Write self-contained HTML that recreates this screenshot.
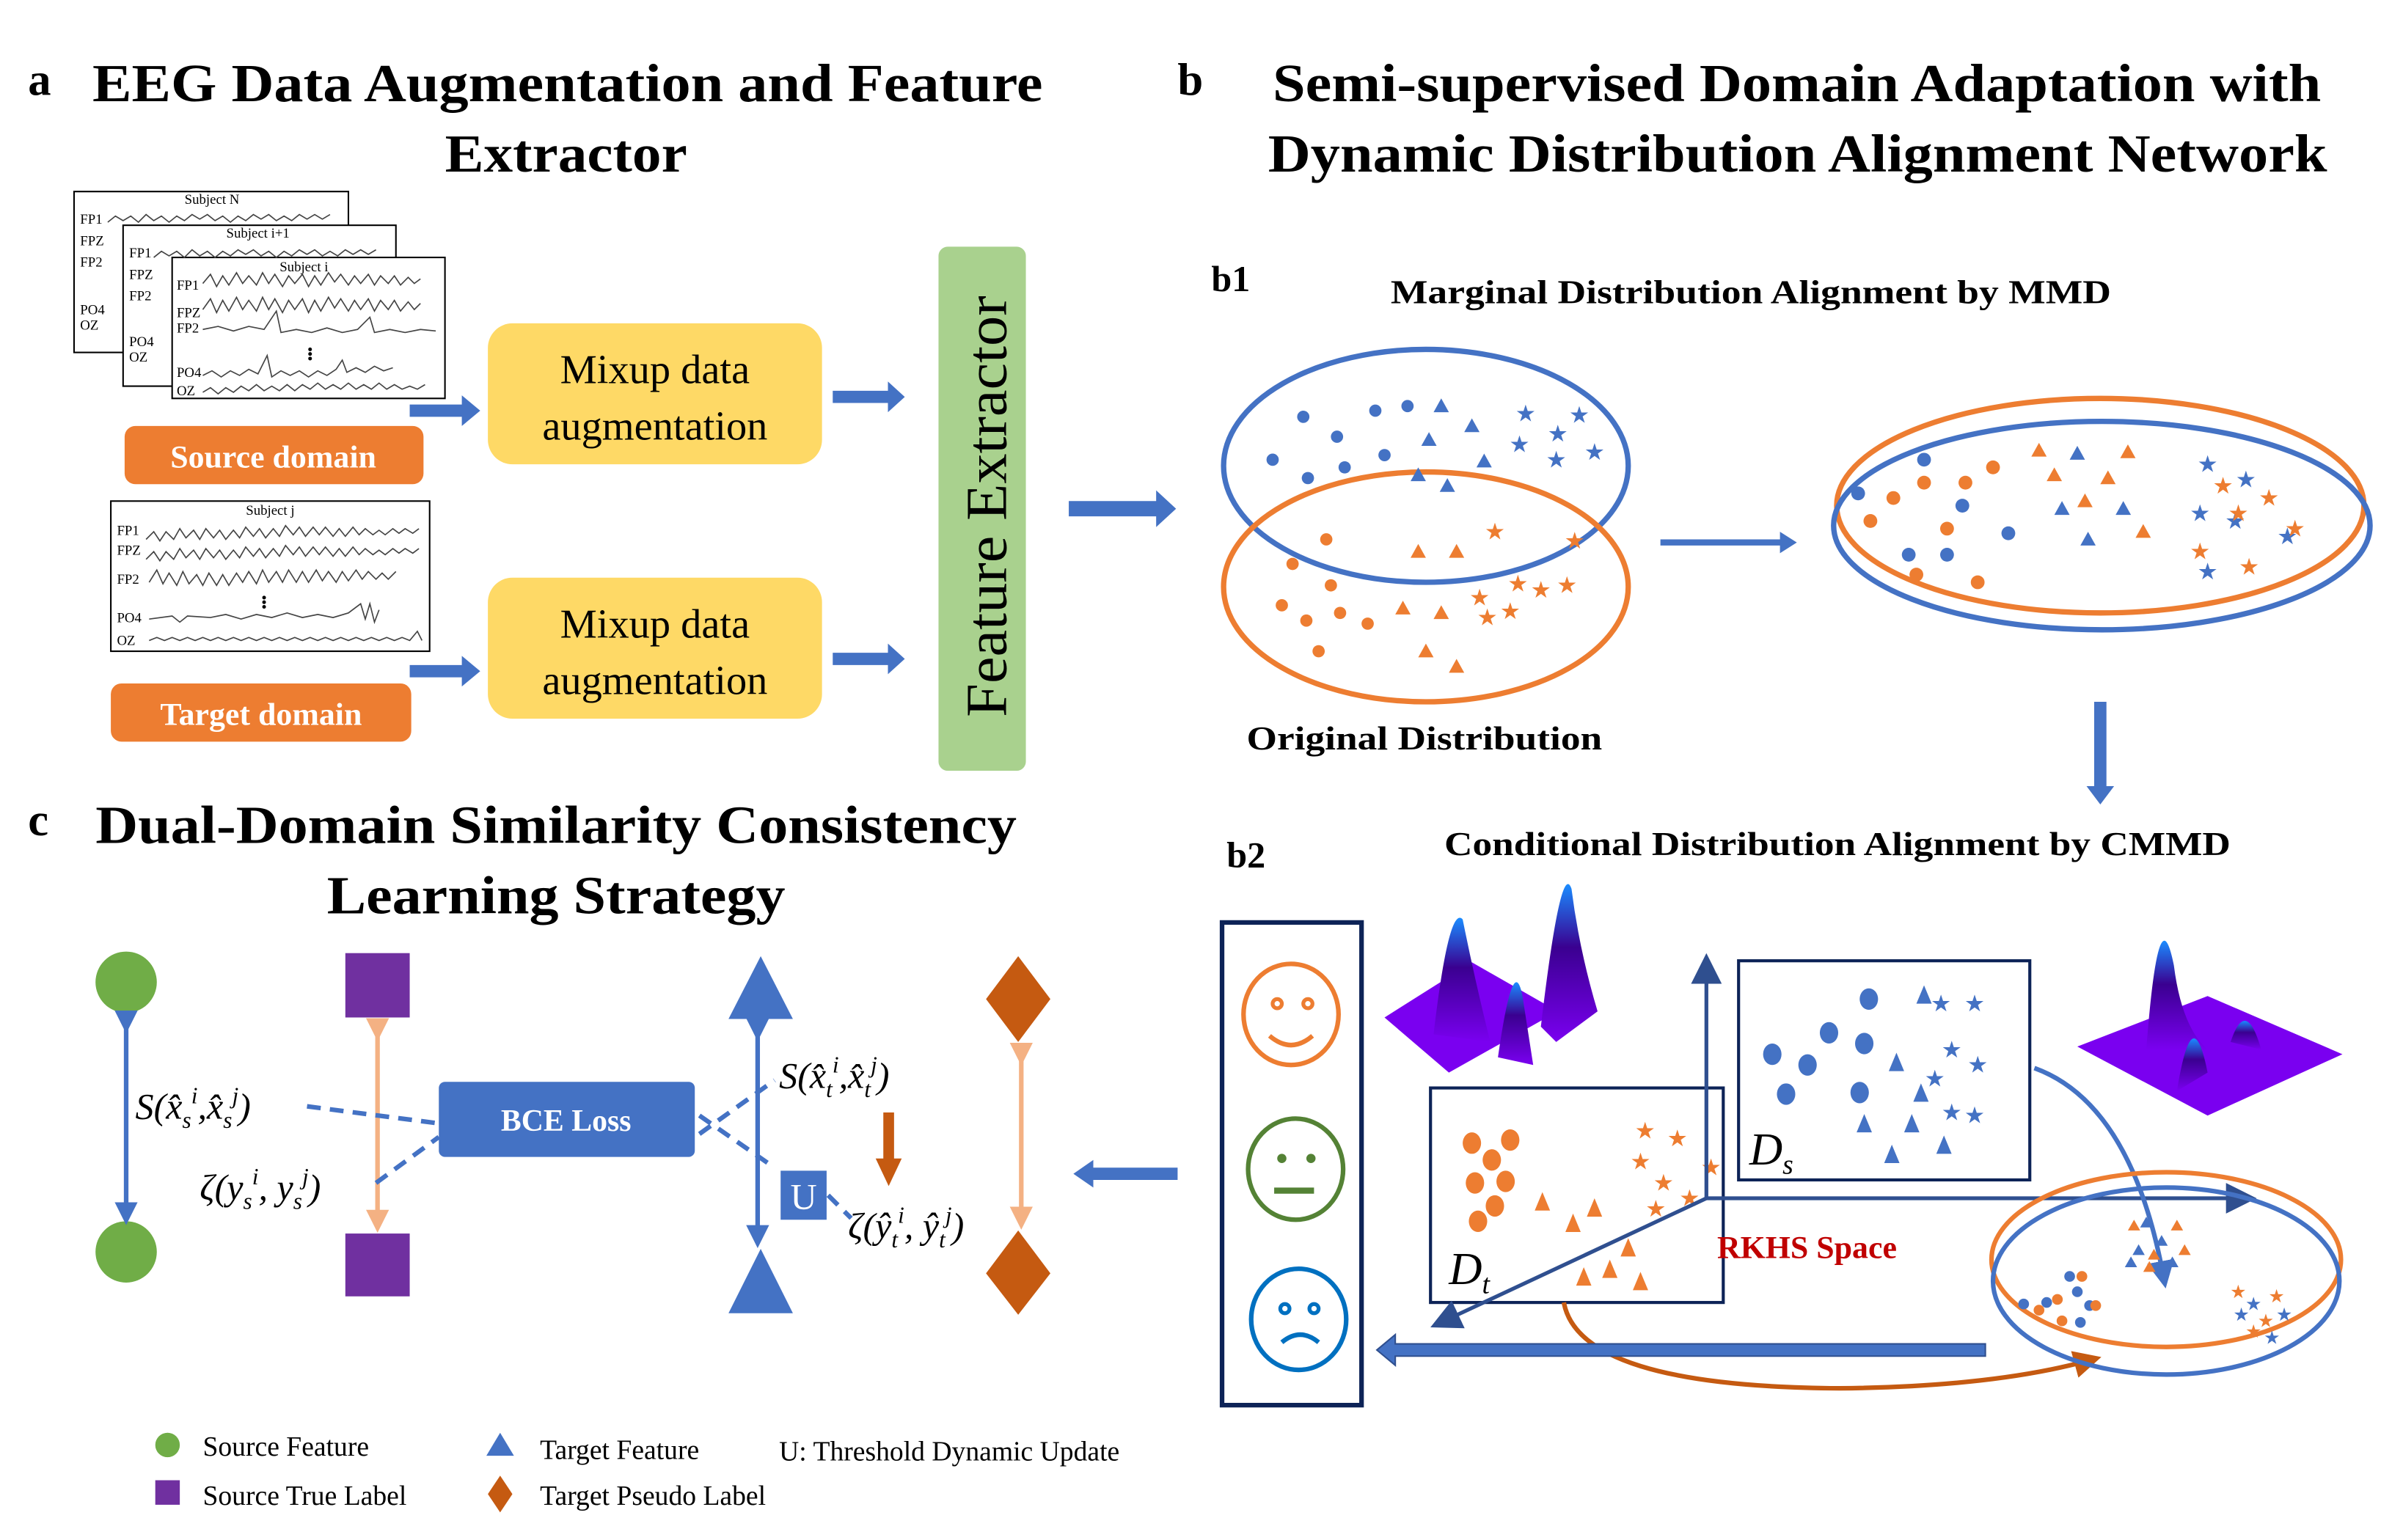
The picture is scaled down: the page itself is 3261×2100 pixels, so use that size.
<!DOCTYPE html>
<html><head><meta charset="utf-8"><style>html,body{margin:0;padding:0;background:#fff}svg{display:block}</style></head><body>
<svg width="3261" height="2100" viewBox="0 0 1560 1005" xmlns="http://www.w3.org/2000/svg" font-family="Liberation Serif, serif">
<defs>
<linearGradient id="pk" x1="0" y1="1" x2="0" y2="0"><stop offset="0" stop-color="#7a00f0"/><stop offset="0.6" stop-color="#3a0090"/><stop offset="1" stop-color="#1a8cff"/></linearGradient>
<marker id="ah" markerWidth="6" markerHeight="6" refX="3" refY="3" orient="auto"><path d="M0,0L6,3L0,6z" fill="#4472c4"/></marker>
<marker id="ahn" markerWidth="8" markerHeight="8" refX="4" refY="4" orient="auto"><path d="M0,0L8,4L0,8z" fill="#2f4f8f"/></marker>
<marker id="aho" markerWidth="6" markerHeight="6" refX="3" refY="3" orient="auto"><path d="M0,0L6,3L0,6z" fill="#c55a11"/></marker>
<marker id="ahp" markerWidth="5" markerHeight="5" refX="2.5" refY="2.5" orient="auto"><path d="M0,0L5,2.5L0,5z" fill="#f4b183"/></marker>
<marker id="ahb" markerWidth="5" markerHeight="5" refX="2.5" refY="2.5" orient="auto"><path d="M0,0L5,2.5L0,5z" fill="#4472c4"/></marker>
</defs>
<g font-weight="bold" fill="#000">
<text x="18" y="62" font-size="30">a</text>
<text x="60" y="66" font-size="35" textLength="620" lengthAdjust="spacingAndGlyphs">EEG Data Augmentation and Feature</text>
<text x="290" y="112" font-size="35" textLength="158" lengthAdjust="spacingAndGlyphs">Extractor</text>
<text x="768" y="62" font-size="30">b</text>
<text x="830" y="66" font-size="35" textLength="684" lengthAdjust="spacingAndGlyphs">Semi-supervised Domain Adaptation with</text>
<text x="827" y="112" font-size="35" textLength="691" lengthAdjust="spacingAndGlyphs">Dynamic Distribution Alignment Network</text>
<text x="790" y="190" font-size="24">b1</text>
<text x="907" y="198" font-size="22" textLength="470" lengthAdjust="spacingAndGlyphs">Marginal Distribution Alignment by MMD</text>
<text x="813" y="489" font-size="22" textLength="232" lengthAdjust="spacingAndGlyphs">Original Distribution</text>
<text x="800" y="566" font-size="24">b2</text>
<text x="942" y="558" font-size="22" textLength="513" lengthAdjust="spacingAndGlyphs">Conditional Distribution Alignment by CMMD</text>
<text x="18" y="545" font-size="30">c</text>
<text x="62" y="550" font-size="35" textLength="601" lengthAdjust="spacingAndGlyphs">Dual-Domain Similarity Consistency</text>
<text x="213" y="596" font-size="35" textLength="299" lengthAdjust="spacingAndGlyphs">Learning Strategy</text>
</g>
<!-- EEG panels -->
<g stroke="#000" stroke-width="1" fill="#fff">
<rect x="48" y="125" width="179" height="105"/>
<rect x="80" y="147" width="178" height="105"/>
<rect x="112" y="168" width="178" height="92"/>
<rect x="72" y="327" width="208" height="98"/>
</g>
<g font-size="9" fill="#000">
<text x="138" y="133" text-anchor="middle">Subject N</text><text x="52" y="146">FP1</text><text x="52" y="160">FPZ</text><text x="52" y="174">FP2</text><text x="52" y="205">PO4</text><text x="52" y="215">OZ</text>
<text x="168" y="155" text-anchor="middle">Subject i+1</text><text x="84" y="168">FP1</text><text x="84" y="182">FPZ</text><text x="84" y="196">FP2</text><text x="84" y="226">PO4</text><text x="84" y="236">OZ</text>
<text x="198" y="177" text-anchor="middle">Subject i</text><text x="115" y="189">FP1</text><text x="115" y="207">FPZ</text><text x="115" y="217">FP2</text><text x="115" y="246">PO4</text><text x="115" y="258">OZ</text>
<text x="176" y="336" text-anchor="middle">Subject j</text><text x="76" y="349">FP1</text><text x="76" y="362">FPZ</text><text x="76" y="381">FP2</text><text x="76" y="406">PO4</text><text x="76" y="421">OZ</text>
</g>
<g stroke="#444" stroke-width="0.8" fill="none">
<path d="M132,185 l5,-6 l4,8 l4,-7 l4,6 l5,-8 l4,7 l4,-5 l5,6 l4,-8 l4,7 l4,-6 l5,8 l4,-7 l4,5 l5,-6 l4,8 l4,-7 l4,6 l5,-8 l4,6 l4,-5 l5,7 l4,-6 l4,5 l5,-6 l4,7 l4,-6 l5,5 l4,-5 l4,6 l5,-5 l4,4 l4,-3"/>
<path d="M132,202 l5,-7 l4,9 l4,-8 l4,7 l5,-9 l4,8 l4,-6 l5,7 l4,-9 l4,8 l4,-7 l5,9 l4,-8 l4,6 l5,-7 l4,9 l4,-8 l4,7 l5,-9 l4,7 l4,-6 l5,8 l4,-7 l4,6 l5,-7 l4,8 l4,-7 l5,6 l4,-6 l4,7 l5,-6 l4,5 l4,-4"/>
<path d="M132,215 l10,-2 l10,3 l10,-3 l10,2 l8,-12 l3,14 l10,-2 l10,2 l10,-3 l10,3 l10,-2 l8,-8 l3,10 l10,-2 l10,2 l10,-2 l10,1"/>
<path d="M132,245 l6,-3 l6,4 l6,-4 l6,3 l6,-4 l6,3 l6,-12 l3,14 l6,-4 l6,3 l6,-3 l6,4 l6,-4 l6,3 l6,-4 l4,-6 l3,8 l6,-3 l6,3 l6,-4 l6,3 l6,-2"/>
<path d="M132,256 l5,-3 l5,4 l5,-4 l5,3 l5,-4 l5,3 l5,-4 l5,4 l5,-3 l5,3 l5,-4 l5,4 l5,-4 l5,3 l5,-4 l5,4 l5,-3 l5,3 l5,-4 l5,4 l5,-3 l5,3 l5,-4 l5,4 l5,-3 l5,3 l5,-2 l5,2 l5,-3"/>
<path d="M70,145 l5,-4 l5,3 l5,-3 l5,4 l5,-5 l5,4 l5,-3 l5,4 l5,-4 l5,3 l5,-4 l5,3 l5,-3 l5,4 l5,-3 l5,4 l5,-4 l5,3 l5,-4 l5,3 l5,-3 l5,4 l5,-3 l5,3 l5,-4 l5,3 l5,-3 l5,3 l5,-3"/>
<path d="M100,168 l5,-4 l5,3 l5,-3 l5,4 l5,-5 l5,4 l5,-3 l5,4 l5,-4 l5,3 l5,-4 l5,3 l5,-3 l5,4 l5,-3 l5,4 l5,-4 l5,3 l5,-4 l5,3 l5,-3 l5,4 l5,-3 l5,3 l5,-4 l5,3 l5,-3 l5,3 l5,-3"/>
<path d="M95,352 l5,-5 l4,6 l4,-6 l5,5 l4,-7 l4,6 l5,-5 l4,6 l4,-7 l5,6 l4,-5 l4,6 l5,-6 l4,5 l4,-7 l5,6 l4,-5 l4,6 l5,-6 l4,5 l4,-7 l5,6 l4,-5 l4,6 l5,-6 l4,5 l4,-5 l5,6 l4,-5 l4,5 l5,-6 l4,5 l4,-4 l5,4 l4,-3 l4,3 l5,-4 l4,3 l4,-3 l5,3 l4,-3"/>
<path d="M95,365 l5,-5 l4,6 l4,-6 l5,5 l4,-7 l4,6 l5,-5 l4,6 l4,-7 l5,6 l4,-5 l4,6 l5,-6 l4,5 l4,-7 l5,6 l4,-5 l4,6 l5,-6 l4,5 l4,-7 l5,6 l4,-5 l4,6 l5,-6 l4,5 l4,-5 l5,6 l4,-5 l4,5 l5,-6 l4,5 l4,-4 l5,4 l4,-3 l4,3 l5,-4 l4,3 l4,-3 l5,3 l4,-3"/>
<path d="M97,380 l5,-8 l4,9 l4,-7 l5,8 l4,-9 l4,8 l5,-6 l4,7 l4,-8 l5,8 l4,-7 l4,7 l5,-8 l4,6 l4,-7 l5,8 l4,-9 l4,8 l5,-7 l4,7 l4,-8 l5,8 l4,-7 l4,7 l5,-8 l4,7 l4,-6 l5,7 l4,-7 l4,6 l5,-7 l4,6 l4,-5 l5,5 l4,-4 l4,4 l5,-5"/>
<path d="M97,404 l15,-2 l5,4 l5,-4 l15,1 l10,-2 l10,3 l10,-3 l10,2 l10,-3 l10,3 l10,-2 l10,2 l10,-3 l8,-6 l3,10 l3,-10 l3,12 l3,-8"/>
<path d="M97,418 l5,-2 l5,2 l5,-2 l5,2 l5,-2 l5,2 l5,-2 l5,2 l5,-2 l5,2 l5,-2 l5,2 l5,-2 l5,2 l5,-2 l5,2 l5,-2 l5,2 l5,-2 l5,2 l5,-2 l5,2 l5,-2 l5,2 l5,-2 l5,2 l5,-2 l5,2 l5,-2 l5,2 l5,-2 l5,2 l5,-2 l5,2 l5,-6 l3,6"/>
</g>
<g fill="#000"><circle cx="202" cy="228" r="1.2"/><circle cx="202" cy="231" r="1.2"/><circle cx="202" cy="234" r="1.2"/><circle cx="172" cy="390" r="1.2"/><circle cx="172" cy="393" r="1.2"/><circle cx="172" cy="396" r="1.2"/></g>
<!-- blue block arrows -->
<g fill="#4472c4">
<path d="M267,264h34v-6l12,10l-12,10v-6h-34z"/>
<path d="M267,434h34v-6l12,10l-12,10v-6h-34z"/>
<path d="M543,255h36v-6l11,10l-11,10v-6h-36z"/>
<path d="M543,426h36v-6l11,10l-11,10v-6h-36z"/>
<path d="M697,327h57v-7l13,12l-13,12v-7h-57z"/>
<path d="M1083,352h78v-5l11,7l-11,7v-5h-78z"/>
<path d="M1366,458h8v55h5l-9,12l-9,-12h5z"/>
<path d="M768,762h-55v-5l-13,9l13,9v-5h55z"/>
</g>
<rect x="81" y="278" width="195" height="38" rx="7" fill="#ed7d31"/>
<rect x="72" y="446" width="196" height="38" rx="7" fill="#ed7d31"/>
<g font-size="21" font-weight="bold" fill="#fff" text-anchor="middle"><text x="178" y="305">Source domain</text><text x="170" y="473">Target domain</text></g>
<rect x="318" y="211" width="218" height="92" rx="16" fill="#fed966"/>
<rect x="318" y="377" width="218" height="92" rx="16" fill="#fed966"/>
<g font-size="27" text-anchor="middle" fill="#000"><text x="427" y="250">Mixup data</text><text x="427" y="287">augmentation</text><text x="427" y="416">Mixup data</text><text x="427" y="453">augmentation</text></g>
<rect x="612" y="161" width="57" height="342" rx="6" fill="#a9d18e"/>
<text transform="translate(656,468) rotate(-90)" font-size="38" fill="#000" textLength="275" lengthAdjust="spacingAndGlyphs">Feature   Extractor</text>
<!-- b1 -->
<ellipse cx="930" cy="304" rx="132" ry="76" fill="none" stroke="#4472c4" stroke-width="3.5"/>
<ellipse cx="930" cy="383" rx="132" ry="75" fill="none" stroke="#ed7d31" stroke-width="3.5"/>
<g fill="#4472c4">
<circle cx="850" cy="272" r="4"/><circle cx="872" cy="285" r="4"/><circle cx="897" cy="268" r="4"/><circle cx="830" cy="300" r="4"/><circle cx="853" cy="312" r="4"/><circle cx="877" cy="305" r="4"/><circle cx="903" cy="297" r="4"/><circle cx="918" cy="265" r="4"/>
<path d="M940,260l5,9h-10z M960,273l5,9h-10z M925,305l5,9h-10z M944,312l5,9h-10z M968,296l5,9h-10z M932,282l5,9h-10z"/>
</g>
<g fill="#4472c4" font-size="15" text-anchor="middle"><text x="995" y="275">★</text><text x="1030" y="276">★</text><text x="991" y="295">★</text><text x="1016" y="288">★</text><text x="1040" y="300">★</text><text x="1015" y="305">★</text></g>
<g fill="#ed7d31">
<circle cx="865" cy="352" r="4"/><circle cx="843" cy="368" r="4"/><circle cx="868" cy="382" r="4"/><circle cx="836" cy="395" r="4"/><circle cx="874" cy="400" r="4"/><circle cx="852" cy="405" r="4"/><circle cx="892" cy="407" r="4"/><circle cx="860" cy="425" r="4"/>
<path d="M925,355l5,9h-10z M950,355l5,9h-10z M915,392l5,9h-10z M940,395l5,9h-10z M930,420l5,9h-10z M950,430l5,9h-10z"/>
</g>
<g fill="#ed7d31" font-size="15" text-anchor="middle"><text x="975" y="352">★</text><text x="1027" y="358">★</text><text x="990" y="386">★</text><text x="1005" y="390">★</text><text x="1022" y="387">★</text><text x="965" y="395">★</text><text x="985" y="404">★</text><text x="970" y="408">★</text></g>
<ellipse cx="1370" cy="330" rx="172" ry="70" fill="none" stroke="#ed7d31" stroke-width="3.5"/>
<ellipse cx="1371" cy="343" rx="175" ry="68" fill="none" stroke="#4472c4" stroke-width="3.5"/>
<g fill="#4472c4"><circle cx="1255" cy="300" r="4.5"/><circle cx="1212" cy="322" r="4.5"/><circle cx="1280" cy="330" r="4.5"/><circle cx="1245" cy="362" r="4.5"/><circle cx="1310" cy="348" r="4.5"/><circle cx="1270" cy="362" r="4.5"/><path d="M1355,291l5,9h-10z M1345,327l5,9h-10z M1385,327l5,9h-10z M1362,347l5,9h-10z"/></g>
<g fill="#ed7d31"><circle cx="1235" cy="325" r="4.5"/><circle cx="1255" cy="315" r="4.5"/><circle cx="1282" cy="315" r="4.5"/><circle cx="1300" cy="305" r="4.5"/><circle cx="1270" cy="345" r="4.5"/><circle cx="1250" cy="375" r="4.5"/><circle cx="1290" cy="380" r="4.5"/><circle cx="1220" cy="340" r="4.5"/><path d="M1330,289l5,9h-10z M1340,305l5,9h-10z M1388,290l5,9h-10z M1360,322l5,9h-10z M1375,307l5,9h-10z M1398,342l5,9h-10z"/></g>
<g font-size="15" text-anchor="middle"><text x="1440" y="308" fill="#4472c4">★</text><text x="1465" y="318" fill="#4472c4">★</text><text x="1435" y="340" fill="#4472c4">★</text><text x="1458" y="345" fill="#4472c4">★</text><text x="1492" y="355" fill="#4472c4">★</text><text x="1440" y="378" fill="#4472c4">★</text><text x="1450" y="322" fill="#ed7d31">★</text><text x="1480" y="330" fill="#ed7d31">★</text><text x="1460" y="340" fill="#ed7d31">★</text><text x="1435" y="365" fill="#ed7d31">★</text><text x="1467" y="375" fill="#ed7d31">★</text><text x="1497" y="350" fill="#ed7d31">★</text></g>
<!-- b2 -->
<rect x="797" y="602" width="91" height="315" fill="none" stroke="#0d2357" stroke-width="3"/>
<ellipse cx="842" cy="662" rx="31" ry="33" fill="none" stroke="#ed7d31" stroke-width="3"/>
<circle cx="833" cy="655" r="3" fill="none" stroke="#ed7d31" stroke-width="2.5"/><circle cx="853" cy="655" r="3" fill="none" stroke="#ed7d31" stroke-width="2.5"/>
<path d="M828,676q14,12 28,0" fill="none" stroke="#ed7d31" stroke-width="3"/>
<ellipse cx="845" cy="763" rx="31" ry="33" fill="none" stroke="#548235" stroke-width="3"/>
<circle cx="836" cy="756" r="3" fill="#548235"/><circle cx="855" cy="756" r="3" fill="#548235"/><rect x="831" y="775" width="26" height="4" fill="#548235"/>
<ellipse cx="847" cy="861" rx="31" ry="33" fill="none" stroke="#0070c0" stroke-width="3"/>
<circle cx="838" cy="854" r="3" fill="none" stroke="#0070c0" stroke-width="2.5"/><circle cx="857" cy="854" r="3" fill="none" stroke="#0070c0" stroke-width="2.5"/>
<path d="M836,876q12,-10 24,0" fill="none" stroke="#0070c0" stroke-width="3"/>
<!-- peaks -->
<path d="M903,664L960,628L1016,660L945,700z" fill="#7a00f0"/>
<path d="M935,675Q945,590 954,600Q962,640 972,680z" fill="url(#pk)"/>
<path d="M1005,670Q1018,560 1025,580Q1030,620 1042,660L1015,680z" fill="url(#pk)"/>
<path d="M977,690Q987,620 993,650L1000,695z" fill="url(#pk)"/>
<path d="M1355,683L1440,650L1528,688L1440,728z" fill="#7a00f0"/>
<path d="M1400,685Q1408,580 1418,630Q1423,670 1440,685z" fill="url(#pk)"/>
<path d="M1420,712Q1430,650 1440,700z" fill="url(#pk)"/>
<path d="M1455,680Q1465,650 1475,685z" fill="url(#pk)"/>
<!-- Ds box -->
<rect x="1134" y="627" width="190" height="143" fill="#fff" stroke="#0d2357" stroke-width="2"/>
<g fill="#4472c4"><ellipse cx="1219" cy="652" rx="6" ry="7"/><ellipse cx="1193" cy="674" rx="6" ry="7"/><ellipse cx="1216" cy="681" rx="6" ry="7"/><ellipse cx="1156" cy="688" rx="6" ry="7"/><ellipse cx="1179" cy="695" rx="6" ry="7"/><ellipse cx="1165" cy="714" rx="6" ry="7"/><ellipse cx="1213" cy="713" rx="6" ry="7"/>
<path d="M1255,643l5,12h-10z M1237,687l5,12h-10z M1253,707l5,12h-10z M1247,727l5,12h-10z M1216,727l5,12h-10z M1234,747l5,12h-10z M1268,741l5,12h-10z"/></g>
<g fill="#4472c4" font-size="15" text-anchor="middle"><text x="1266" y="660">★</text><text x="1288" y="660">★</text><text x="1273" y="690">★</text><text x="1290" y="700">★</text><text x="1262" y="709">★</text><text x="1273" y="731">★</text><text x="1288" y="733">★</text></g>
<text x="1141" y="760" font-size="30" font-style="italic" fill="#000">D<tspan font-size="18" dy="6">s</tspan></text>
<!-- Dt box -->
<rect x="933" y="710" width="191" height="140" fill="#fff" stroke="#0d2357" stroke-width="2"/>
<g fill="#ed7d31"><ellipse cx="960" cy="746" rx="6" ry="7"/><ellipse cx="985" cy="744" rx="6" ry="7"/><ellipse cx="973" cy="757" rx="6" ry="7"/><ellipse cx="962" cy="772" rx="6" ry="7"/><ellipse cx="982" cy="771" rx="6" ry="7"/><ellipse cx="975" cy="787" rx="6" ry="7"/><ellipse cx="964" cy="797" rx="6" ry="7"/>
<path d="M1006,778l5,12h-10z M1040,782l5,12h-10z M1026,792l5,12h-10z M1062,808l5,12h-10z M1050,822l5,12h-10z M1033,827l5,12h-10z M1070,830l5,12h-10z"/></g>
<g fill="#ed7d31" font-size="15" text-anchor="middle"><text x="1073" y="743">★</text><text x="1094" y="748">★</text><text x="1070" y="763">★</text><text x="1085" y="777">★</text><text x="1116" y="767">★</text><text x="1080" y="794">★</text><text x="1102" y="787">★</text></g>
<text x="945" y="838" font-size="30" font-style="italic" fill="#000">D<tspan font-size="18" dy="6">t</tspan></text>
<!-- axes -->
<g stroke="#2f4f8f" stroke-width="2.5" fill="none">
<line x1="1113" y1="782" x2="1113" y2="632" marker-end="url(#ahn)"/>
<line x1="1113" y1="782" x2="1462" y2="782" marker-end="url(#ahn)"/>
<line x1="1113" y1="782" x2="942" y2="862" marker-end="url(#ahn)"/>
</g>
<text x="1120" y="821" font-size="21" font-weight="bold" fill="#c00000">RKHS Space</text>
<path d="M1327,697Q1390,720 1411,832" fill="none" stroke="#4472c4" stroke-width="3" marker-end="url(#ah)"/>
<path d="M1020,850Q1030,905 1200,906Q1300,905 1362,888" fill="none" stroke="#c55a11" stroke-width="3" marker-end="url(#aho)"/>
<path d="M1295,877h-385v-6l-12,10l12,10v-6h385z" fill="#4472c4" stroke="#2f4f8f" stroke-width="1"/>
<ellipse cx="1413" cy="822" rx="114" ry="57" fill="none" stroke="#ed7d31" stroke-width="3"/>
<ellipse cx="1413" cy="836" rx="113" ry="61" fill="none" stroke="#4472c4" stroke-width="3"/>
<g fill="#4472c4"><circle cx="1350" cy="833" r="3.5"/><circle cx="1355" cy="843" r="3.5"/><circle cx="1335" cy="850" r="3.5"/><circle cx="1363" cy="852" r="3.5"/><circle cx="1357" cy="863" r="3.5"/><circle cx="1320" cy="851" r="3.5"/><path d="M1400,794l4,7h-8z M1395,812l4,7h-8z M1410,806l4,7h-8z M1417,820l4,7h-8z M1390,820l4,7h-8z"/></g>
<g fill="#ed7d31"><circle cx="1358" cy="833" r="3.5"/><circle cx="1342" cy="848" r="3.5"/><circle cx="1330" cy="855" r="3.5"/><circle cx="1345" cy="862" r="3.5"/><circle cx="1367" cy="852" r="3.5"/><path d="M1392,796l4,7h-8z M1420,796l4,7h-8z M1405,815l4,7h-8z M1425,812l4,7h-8z M1402,823l4,7h-8z"/></g>
<g font-size="12" text-anchor="middle"><text x="1460" y="847" fill="#ed7d31">★</text><text x="1470" y="855" fill="#4472c4">★</text><text x="1485" y="850" fill="#ed7d31">★</text><text x="1462" y="862" fill="#4472c4">★</text><text x="1478" y="866" fill="#ed7d31">★</text><text x="1490" y="862" fill="#4472c4">★</text><text x="1470" y="873" fill="#ed7d31">★</text><text x="1482" y="877" fill="#4472c4">★</text></g>
<!-- c -->
<circle cx="82" cy="641" r="20" fill="#70ad47"/><circle cx="82" cy="817" r="20" fill="#70ad47"/>
<line x1="82" y1="667" x2="82" y2="792" stroke="#4472c4" stroke-width="3" marker-start="url(#ahb)" marker-end="url(#ahb)"/>
<rect x="225" y="622" width="42" height="42" fill="#7030a0"/><rect x="225" y="805" width="42" height="41" fill="#7030a0"/>
<line x1="246" y1="672" x2="246" y2="797" stroke="#f4b183" stroke-width="3" marker-start="url(#ahp)" marker-end="url(#ahp)"/>
<path d="M496,624l21,41h-42z M496,815l21,42h-42z" fill="#4472c4"/>
<line x1="494" y1="672" x2="494" y2="807" stroke="#4472c4" stroke-width="3" marker-start="url(#ahb)" marker-end="url(#ahb)"/>
<path d="M664,624l21,28l-21,28l-21,-28z M664,803l21,28l-21,27l-21,-27z" fill="#c55a11"/>
<line x1="666" y1="688" x2="666" y2="795" stroke="#f4b183" stroke-width="3" marker-start="url(#ahp)" marker-end="url(#ahp)"/>
<rect x="286" y="706" width="167" height="49" rx="4" fill="#4472c4"/>
<text x="369" y="738" font-size="20" font-weight="bold" fill="#fff" text-anchor="middle">BCE Loss</text>
<g stroke="#4472c4" stroke-width="3" stroke-dasharray="9,6" fill="none">
<line x1="200" y1="722" x2="285" y2="733"/><line x1="245" y1="772" x2="286" y2="742"/>
<line x1="456" y1="740" x2="505" y2="705"/><line x1="456" y1="728" x2="505" y2="762"/><line x1="540" y1="780" x2="555" y2="795"/>
</g>
<rect x="509" y="764" width="30" height="32" fill="#4472c4"/>
<text x="524" y="789" font-size="24" fill="#fff" text-anchor="middle">U</text>
<path d="M576,726h7v30h5l-8.5,18l-8.5,-18h5z" fill="#c55a11"/>
<g font-size="24" font-style="italic" fill="#000">
<text x="88" y="730">S(x̂<tspan font-size="15" dy="6">s</tspan><tspan font-size="15" dy="-16">i</tspan><tspan dy="10">,x̂</tspan><tspan font-size="15" dy="6">s</tspan><tspan font-size="15" dy="-16">j</tspan><tspan dy="10">)</tspan></text>
<text x="130" y="783">ζ(y<tspan font-size="15" dy="6">s</tspan><tspan font-size="15" dy="-16">i</tspan><tspan dy="10">, y</tspan><tspan font-size="15" dy="6">s</tspan><tspan font-size="15" dy="-16">j</tspan><tspan dy="10">)</tspan></text>
<text x="508" y="710">S(x̂<tspan font-size="15" dy="6">t</tspan><tspan font-size="15" dy="-16">i</tspan><tspan dy="10">,x̂</tspan><tspan font-size="15" dy="6">t</tspan><tspan font-size="15" dy="-16">j</tspan><tspan dy="10">)</tspan></text>
<text x="553" y="808">ζ(ŷ<tspan font-size="15" dy="6">t</tspan><tspan font-size="15" dy="-16">i</tspan><tspan dy="10">, ŷ</tspan><tspan font-size="15" dy="6">t</tspan><tspan font-size="15" dy="-16">j</tspan><tspan dy="10">)</tspan></text>
</g>
<!-- legend -->
<circle cx="109" cy="943" r="8" fill="#70ad47"/>
<rect x="101" y="966" width="16" height="16" fill="#7030a0"/>
<path d="M326,935l9,15h-18z" fill="#4472c4"/>
<path d="M326,963l8,12l-8,12l-8,-12z" fill="#c55a11"/>
<g font-size="18" fill="#000"><text x="132" y="950">Source Feature</text><text x="132" y="982">Source True Label</text><text x="352" y="952">Target Feature</text><text x="352" y="982">Target Pseudo Label</text><text x="508" y="953">U:  Threshold Dynamic Update</text></g>
</svg>
</body></html>
